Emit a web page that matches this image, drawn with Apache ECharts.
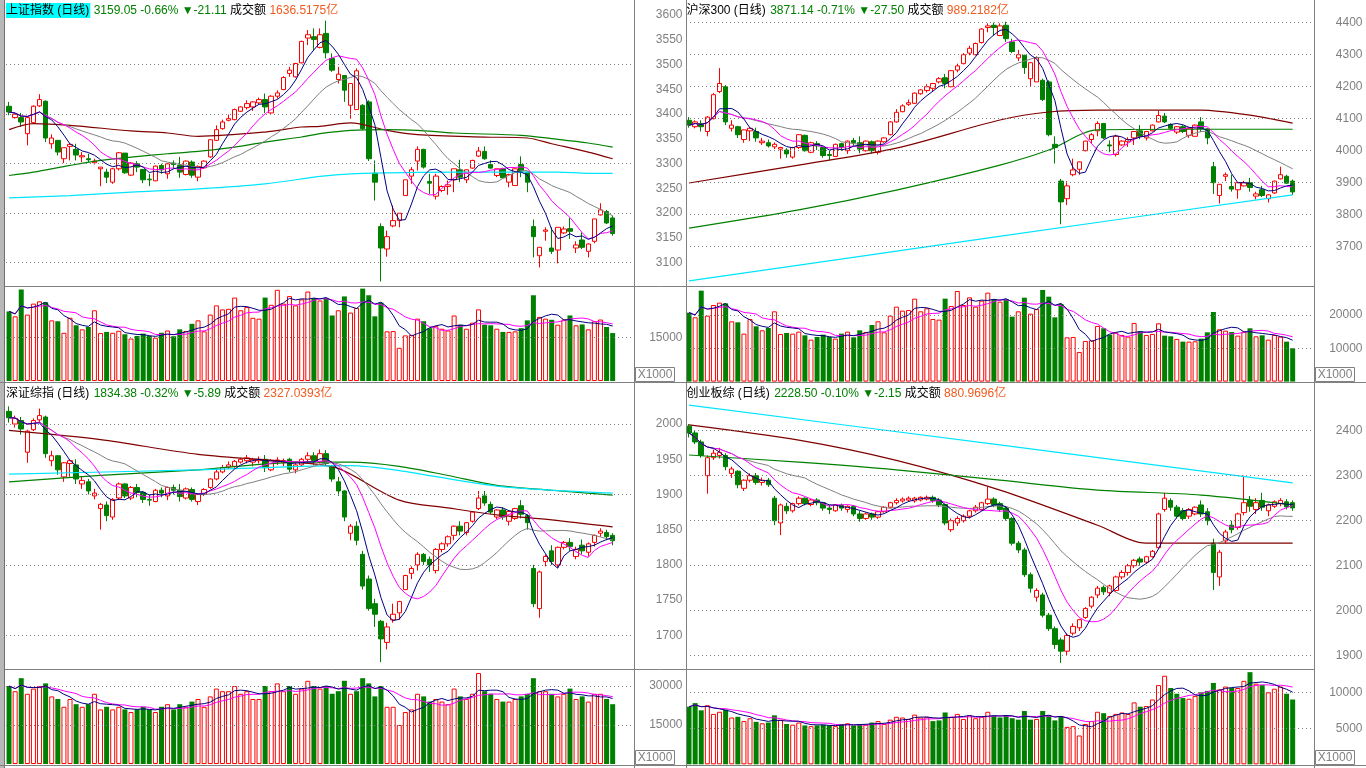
<!DOCTYPE html>
<html><head><meta charset="utf-8">
<script src="https://cdn.jsdelivr.net/npm/echarts@6/dist/echarts.min.js"></script>
<style>html,body{margin:0;padding:0;background:#fff;overflow:hidden}#c{width:1366px;height:768px}</style>
</head><body><div id="c"></div>
<script>
const dayIndex = Array.from({length: 103}, (_, i) => 'D' + (i + 1));

// ---------- 上证指数 ----------
const shTitle = ['上证指数 (日线)', '3159.05 -0.66%', '▼-21.11', '成交额', '1636.5175亿'];
const shOHLC = [ // [open, close, low, high]
[3415.8,3404.3,3397.6,3424.6],[3392.9,3399.6,3390.8,3402.3],[3392.9,3384.1,3374.0,3402.3],[3360.5,3392.9,3336.9,3394.2],
[3382.7,3415.8,3380.7,3417.8],[3416.5,3429.3,3414.5,3440.1],[3425.9,3351.7,3343.6,3428.0],[3340.2,3351.7,3330.1,3359.1],
[3347.0,3323.4,3316.6,3347.0],[3309.9,3332.1,3301.1,3332.1],[3334.8,3338.9,3306.5,3340.2],[3328.8,3317.3,3306.5,3340.2],
[3313.6,3316.0,3303.1,3323.4],[3309.9,3307.8,3303.1,3320.0],[3301.8,3305.2,3298.4,3309.9],[3289.6,3293.0,3254.5,3293.0],
[3282.9,3272.7,3260.6,3289.6],[3262.6,3289.6,3259.3,3291.0],[3289.6,3322.0,3286.2,3323.4],[3321.3,3281.5,3279.5,3321.3],
[3276.8,3301.1,3274.8,3303.1],[3299.7,3293.0,3282.9,3305.1],[3288.3,3267.4,3260.6,3288.3],[3268.7,3267.4,3254.5,3279.5],
[3265.3,3295.0,3264.6,3296.4],[3296.4,3287.6,3279.5,3299.7],[3279.5,3299.7,3269.4,3301.1],[3301.1,3298.4,3289.6,3306.5],
[3296.4,3282.9,3271.4,3313.6],[3278.1,3305.1,3276.1,3306.5],[3303.1,3276.8,3271.4,3306.5],[3272.7,3294.3,3264.6,3296.4],
[3291.6,3305.1,3289.6,3306.5],[3313.6,3348.3,3311.9,3348.3],[3347.0,3368.6,3345.6,3377.3],[3370.6,3384.1,3368.6,3388.8],
[3387.5,3390.8,3385.4,3398.9],[3388.8,3409.1,3387.5,3411.1],[3405.7,3414.5,3404.3,3415.8],[3413.1,3421.2,3409.1,3427.9],
[3414.5,3424.6,3406.4,3425.9],[3422.6,3429.3,3419.9,3433.4],[3429.3,3414.5,3402.3,3441.5],[3402.3,3436.1,3400.9,3438.1],
[3436.1,3442.8,3431.3,3448.0],[3449.5,3473.8,3448.2,3476.5],[3482.0,3488.7,3475.2,3495.4],[3475.2,3502.2,3473.8,3503.5],
[3503.5,3546.7,3502.2,3548.1],[3553.5,3560.2,3539.3,3569.7],[3556.2,3550.8,3529.2,3573.0],[3534.6,3560.2,3532.5,3573.0],
[3562.9,3523.8,3512.3,3588.6],[3512.3,3488.7,3485.3,3522.4],[3469.8,3480.6,3461.7,3495.4],[3477.9,3448.2,3424.6,3477.9],
[3417.8,3461.7,3390.8,3461.7],[3409.1,3487.4,3409.1,3492.1],[3417.8,3370.6,3368.0,3420.0],[3424.6,3309.9,3305.2,3428.0],
[3280.8,3262.6,3225.5,3306.5],[3172.9,3129.7,3062.2,3179.6],[3127.7,3152.6,3112.2,3164.8],[3174.3,3185.1,3171.5,3215.4],
[3185.1,3199.9,3171.5,3199.9],[3235.6,3267.4,3235.6,3267.4],[3274.8,3287.6,3259.3,3293.0],[3305.2,3328.8,3286.2,3334.8],
[3328.8,3293.0,3290.0,3330.0],[3264.0,3260.6,3239.0,3279.5],[3234.3,3274.8,3227.6,3279.5],[3245.8,3253.9,3242.4,3256.0],
[3253.9,3257.2,3237.0,3266.0],[3267.4,3289.6,3242.4,3289.6],[3287.6,3272.7,3262.6,3307.8],[3267.4,3287.6,3260.6,3287.6],
[3291.0,3306.5,3289.6,3307.8],[3315.3,3325.4,3313.3,3333.5],[3324.7,3309.9,3307.8,3334.8],[3298.4,3291.0,3289.6,3306.5],
[3276.1,3289.6,3272.7,3289.6],[3289.6,3271.4,3270.0,3292.0],[3262.6,3278.1,3252.5,3279.5],[3255.9,3289.6,3255.9,3290.0],
[3298.4,3284.9,3272.7,3314.6],[3282.9,3262.6,3242.4,3283.0],[3172.9,3152.6,3110.8,3187.1],[3114.2,3131.1,3090.6,3131.1],
[3163.5,3166.1,3144.5,3171.5],[3129.7,3123.0,3117.6,3171.5],[3125.6,3171.5,3098.7,3171.5],[3160.1,3168.1,3158.0,3172.9],
[3168.8,3163.5,3148.0,3190.4],[3129.7,3135.8,3119.6,3143.2],[3145.9,3131.1,3127.7,3161.4],[3123.0,3137.8,3110.8,3139.2],
[3143.2,3188.4,3139.2,3188.4],[3196.5,3206.6,3195.2,3220.1],[3203.3,3180.16,3178.3,3206.6],[3190.4,3159.05,3154.7,3195.0]
];
const shVol = [24100,22400,31700,23000,26800,27600,27300,21000,20700,16700,
21900,19300,17900,18700,24500,16600,17000,16700,17400,16200,
14700,15600,16400,15600,15000,16700,17500,15500,17900,17300,
19800,21000,17200,23000,26200,24800,25000,28900,24500,25600,
21900,21600,28900,26400,31600,26800,29400,26200,28300,31000,
28700,27900,28700,22700,24500,29300,23700,25300,32000,29700,
22400,27100,17200,17300,11500,15800,16000,21600,20700,18300,
19000,18100,17500,22700,19500,18100,20200,24800,19500,19300,
18100,17000,17000,17200,18300,21000,29700,22200,21600,21200,
19500,21300,22700,19300,19600,17900,20700,21300,18700,16600];
const shMA60 = [[0,3368.6],[4,3380.7],[10,3377.3],[20,3366],[26,3361.8],[31,3355.1],[42,3363.8],[48,3374.0],[51,3375.3],[56,3382.1],[62,3367.2],[67,3358.5],[78,3353.7],[85,3351.7],[89,3340.2],[95,3323.4],[99,3309.9]];
const shMA120 = [[0,3276.1],[4,3282.9],[10,3296.4],[15,3306.5],[20,3313.2],[26,3320.0],[31,3324.7],[37,3333.5],[42,3343.6],[48,3353.7],[51,3360.5],[56,3367.2],[62,3368.6],[67,3367.2],[73,3361.8],[84,3357.1],[89,3350.4],[95,3341.6],[99,3333.5]];
const shMA250 = [[0,3230.9],[10,3235.6],[20,3242.4],[31,3249.1],[42,3259.3],[51,3274.1],[56,3279.5],[62,3281.5],[73,3282.9],[84,3282.9],[90,3282.9],[95,3280.5],[99,3280.5]];
const shTicks = [3100,3150,3200,3250,3300,3350,3400,3450,3500,3550,3600];
const shLines = [3100,3200,3300,3400,3500];
const shVolTicks = [15000];

// ---------- 沪深300 ----------
const hsTitle = ['沪深300 (日线)', '3871.14 -0.71%', '▼-27.50', '成交额', '989.2182亿'];
const hsOHLC = [
[4095,4080,4072,4105],[4075,4090,4070,4095],[4085,4075,4060,4095],[4060,4105,4045,4108],[4100,4175,4098,4180],
[4185,4210,4180,4258],[4200,4090,4080,4205],[4070,4080,4060,4095],[4075,4050,4040,4078],[4035,4065,4025,4066],
[4062,4070,4030,4072],[4060,4040,4028,4072],[4025,4030,4018,4040],[4025,4015,4010,4035],[4012,4020,4005,4026],
[4005,4010,3975,4012],[4002,3990,3978,4008],[3980,4010,3975,4012],[4010,4050,4005,4052],[4048,4000,3997,4050],
[3995,4025,3992,4028],[4022,4015,4002,4030],[4010,3985,3978,4012],[3988,3985,3970,4000],[3982,4020,3980,4022],
[4022,4010,4000,4025],[4000,4030,3990,4032],[4032,4025,4015,4040],[4025,4005,3992,4045],[4000,4030,3997,4032],
[4028,4000,3992,4032],[3995,4030,3988,4032],[4028,4040,4025,4042],[4050,4090,4048,4092],[4090,4120,4088,4130],
[4122,4140,4120,4145],[4145,4150,4140,4160],[4148,4180,4146,4182],[4178,4190,4175,4192],[4188,4200,4182,4208],
[4195,4210,4185,4212],[4215,4225,4210,4230],[4228,4210,4195,4240],[4200,4250,4198,4252],[4252,4265,4245,4272],
[4272,4300,4270,4305],[4305,4320,4298,4328],[4300,4335,4298,4338],[4338,4380,4335,4383],[4385,4390,4370,4398],
[4392,4385,4360,4400],[4360,4390,4358,4398],[4392,4350,4340,4403],[4340,4310,4305,4350],[4290,4300,4280,4315],
[4298,4260,4240,4300],[4225,4275,4200,4276],[4215,4290,4215,4295],[4220,4160,4155,4225],[4215,4050,4045,4220],
[4020,4010,3960,4045],[3905,3840,3770,3912],[3850,3890,3830,3905],[3925,3940,3920,3975],[3942,3965,3925,3966],
[4000,4030,3998,4031],[4035,4050,4022,4055],[4062,4085,4045,4092],[4085,4040,4036,4087],[4018,4015,3995,4032],
[3988,4045,3982,4050],[4018,4030,4015,4033],[4028,4035,4012,4042],[4040,4060,4018,4060],[4062,4045,4036,4080],
[4040,4060,4032,4061],[4062,4080,4060,4082],[4090,4110,4088,4125],[4108,4090,4086,4118],[4082,4070,4066,4086],
[4058,4075,4052,4076],[4075,4060,4055,4080],[4048,4070,4040,4072],[4045,4080,4045,4082],[4090,4070,4058,4105],
[4068,4040,4020,4070],[3950,3900,3865,3965],[3860,3895,3835,3896],[3920,3925,3905,3932],[3888,3880,3872,3925],
[3878,3900,3850,3902],[3890,3900,3888,3906],[3900,3885,3872,3915],[3858,3865,3848,3872],[3878,3860,3855,3890],
[3850,3862,3838,3864],[3868,3905,3865,3906],[3912,3925,3910,3950],[3920,3898.64,3896,3925],[3905,3871.14,3862,3910]
];
const hsVol = [20700,19300,27300,19800,23000,23700,23500,18100,17800,14400,
18800,16600,15400,16100,21100,14300,14600,14400,15000,13900,
12600,13400,14100,13400,12900,14400,15000,13300,15400,14900,
17000,18100,14800,19800,22500,21300,21500,24900,21100,22000,
18800,18600,24900,22700,27200,23000,25300,22500,24300,26700,
24700,24000,24700,19500,21100,25200,20400,21800,27500,25500,
19300,23300,13300,13400,8900,12200,12400,16700,16000,14100,
14700,14000,13500,17600,15100,14000,14300,17500,13800,13600,
12800,12000,12000,12100,12900,14800,20900,15700,15300,14900,
13800,15000,16000,13600,13900,12600,14000,13500,12000,10000];
const hsMA60 = [[0,3899],[18,3955],[34,4008],[51,4096],[59,4121],[67,4127],[84,4127],[92,4111],[99,4086]];
const hsMA120 = [[0,3758],[18,3815],[34,3877],[51,3955],[59,4002],[67,4065],[80,4067],[99,4067]];
const hsMA250 = [[0,3593],[50,3730],[99,3862]];
const hsTicks = [3700,3800,3900,4000,4100,4200,4300,4400];
const hsLines = [3700,3800,3900,4000,4100,4200,4300,4400];
const hsVolTicks = [10000,20000];

// ---------- 深证综指 ----------
const szTitle = ['深证综指 (日线)', '1834.38 -0.32%', '▼-5.89', '成交额', '2327.0393亿'];
const szOHLC = [
[2018,2009,2002,2025],[2000,2008,1995,2012],[2005,1993,1985,2010],[1960,1990,1945,1992],[1992,2005,1990,2008],
[2006,2012,2002,2022],[2010,1958,1952,2012],[1948,1955,1940,1962],[1955,1935,1928,1956],[1925,1945,1918,1946],
[1944,1948,1925,1950],[1942,1922,1915,1950],[1915,1920,1908,1926],[1918,1905,1900,1922],[1898,1902,1893,1908],
[1880,1886,1850,1888],[1885,1870,1862,1890],[1868,1893,1864,1895],[1895,1915,1892,1917],[1915,1898,1895,1916],
[1895,1910,1892,1912],[1910,1903,1896,1915],[1903,1893,1888,1905],[1893,1892,1884,1900],[1890,1906,1889,1908],
[1906,1902,1896,1910],[1898,1910,1892,1911],[1910,1906,1900,1914],[1906,1897,1890,1915],[1895,1908,1893,1910],
[1907,1893,1890,1910],[1890,1900,1885,1902],[1900,1907,1898,1909],[1910,1922,1908,1923],[1922,1932,1920,1937],
[1932,1938,1930,1942],[1939,1942,1936,1947],[1940,1947,1938,1949],[1946,1950,1944,1952],[1948,1952,1944,1956],
[1946,1950,1940,1952],[1948,1950,1944,1954],[1950,1938,1932,1956],[1935,1948,1933,1950],[1946,1949,1942,1953],
[1945,1948,1940,1951],[1950,1936,1932,1952],[1935,1942,1930,1945],[1942,1950,1940,1952],[1950,1955,1945,1960],
[1955,1948,1942,1960],[1946,1958,1944,1964],[1958,1944,1940,1963],[1940,1922,1918,1942],[1918,1905,1898,1925],
[1905,1868,1862,1906],[1845,1855,1835,1858],[1855,1835,1828,1862],[1815,1770,1765,1820],[1780,1738,1735,1785],
[1745,1730,1712,1752],[1720,1695,1662,1722],[1690,1712,1680,1718],[1722,1730,1718,1745],[1732,1748,1722,1749],
[1765,1785,1765,1786],[1788,1795,1780,1798],[1800,1815,1792,1818],[1815,1805,1800,1817],[1808,1800,1790,1812],
[1792,1822,1788,1824],[1822,1830,1818,1832],[1830,1840,1826,1842],[1842,1855,1835,1856],[1855,1848,1842,1862],
[1846,1860,1842,1861],[1862,1875,1860,1876],[1880,1895,1878,1905],[1898,1888,1884,1905],[1886,1875,1872,1890],
[1868,1878,1865,1879],[1878,1868,1864,1882],[1862,1876,1856,1877],[1866,1880,1864,1881],[1884,1872,1866,1892],
[1870,1860,1850,1872],[1795,1745,1740,1800],[1738,1790,1725,1792],[1805,1812,1798,1815],[1820,1805,1800,1828],
[1800,1825,1796,1826],[1825,1832,1822,1834],[1832,1826,1820,1838],[1812,1822,1808,1826],[1828,1820,1815,1836],
[1818,1830,1812,1832],[1832,1842,1826,1843],[1845,1848,1840,1852],[1846,1840.27,1835,1850],[1842,1834.38,1828,1845]
];
const szVol = [30000,28000,33000,27000,29000,30000,31000,26000,25000,22000,
25000,23000,22000,23000,27000,21000,22000,21000,22000,21000,
20000,21000,22000,21000,20000,22000,23000,21000,23000,22000,
24000,25000,22000,26000,29000,28000,28000,30000,27000,28000,
25000,25000,30000,28000,31000,28000,30000,27000,29000,32000,
30000,29000,30000,27000,28000,32000,27000,28000,33000,31000,
26000,30000,22000,22000,15000,20000,21000,27000,26000,24000,
25000,24000,23000,29000,26000,25000,27000,35000,28000,27000,
25000,24000,24000,25000,26000,27000,33000,28000,28000,27000,
26000,27000,29000,25000,26000,24000,27000,27000,25000,23000];
const szMA60 = [[0,1991],[15,1978],[31,1957],[48,1945],[54,1937],[64,1892],[72,1881],[80,1871],[89,1864],[99,1854]];
const szMA120 = [[0,1918],[15,1927],[31,1935],[48,1946],[56,1946],[64,1940],[72,1927],[80,1913],[89,1906],[99,1899]];
const szMA250 = [[0,1929],[31,1935],[48,1940],[56,1941],[64,1934],[80,1912],[99,1902]];
const szTicks = [1700,1750,1800,1850,1900,1950,2000];
const szLines = [1700,1800,1900,2000];
const szVolTicks = [15000,30000];

// ---------- 创业板综 ----------
const cyTitle = ['创业板综 (日线)', '2228.50 -0.10%', '▼-2.15', '成交额', '880.9696亿'];
const cyOHLC = [
[2410,2395,2385,2415],[2395,2375,2370,2400],[2375,2345,2340,2380],[2300,2340,2260,2345],[2340,2350,2335,2358],
[2345,2352,2338,2362],[2345,2320,2312,2350],[2305,2315,2295,2320],[2310,2280,2272,2312],[2272,2290,2266,2292],
[2290,2300,2285,2305],[2300,2285,2280,2306],[2285,2290,2278,2296],[2290,2280,2275,2295],[2250,2200,2190,2255],
[2195,2235,2168,2238],[2232,2222,2215,2240],[2222,2238,2218,2240],[2238,2250,2234,2254],[2250,2238,2234,2252],
[2236,2246,2232,2248],[2246,2240,2234,2250],[2240,2228,2222,2242],[2228,2225,2215,2235],[2222,2235,2220,2236],
[2235,2228,2222,2238],[2225,2232,2218,2234],[2232,2215,2210,2235],[2215,2205,2198,2222],[2205,2215,2202,2218],
[2215,2208,2202,2218],[2208,2220,2204,2222],[2220,2230,2218,2232],[2230,2240,2228,2242],[2240,2245,2236,2250],
[2244,2248,2240,2252],[2246,2250,2242,2254],[2244,2250,2240,2253],[2246,2252,2243,2254],[2248,2252,2245,2256],
[2252,2245,2240,2256],[2246,2235,2230,2250],[2236,2195,2190,2238],[2180,2200,2175,2205],[2195,2205,2188,2210],
[2200,2210,2196,2214],[2210,2222,2205,2224],[2222,2230,2218,2235],[2225,2240,2222,2242],[2238,2248,2235,2275],
[2248,2235,2230,2252],[2238,2225,2220,2242],[2228,2205,2200,2232],[2205,2150,2145,2208],[2150,2135,2128,2155],
[2135,2080,2075,2140],[2080,2050,2040,2085],[2030,2045,2020,2050],[2035,1990,1985,2040],[1990,1960,1955,1995],
[1960,1925,1915,1965],[1935,1910,1884,1940],[1910,1945,1900,1950],[1950,1965,1945,1972],[1962,1980,1955,1982],
[1985,2005,1982,2008],[2010,2030,2005,2032],[2035,2050,2028,2055],[2052,2042,2035,2056],[2040,2055,2032,2058],
[2045,2075,2042,2078],[2075,2085,2070,2090],[2085,2100,2078,2104],[2100,2112,2095,2115],[2115,2108,2100,2120],
[2108,2120,2104,2122],[2120,2132,2118,2135],[2140,2215,2138,2218],[2225,2250,2220,2262],[2245,2230,2222,2250],
[2230,2210,2205,2235],[2222,2205,2200,2228],[2210,2225,2204,2228],[2215,2230,2212,2232],[2235,2215,2208,2245],
[2220,2200,2190,2228],[2150,2085,2046,2160],[2075,2130,2055,2135],[2155,2175,2150,2180],[2190,2180,2172,2200],
[2185,2215,2180,2218],[2218,2240,2212,2300],[2245,2232,2220,2255],[2225,2240,2215,2250],[2245,2230,2222,2262],
[2222,2235,2210,2238],[2232,2242,2228,2245],[2238,2245,2232,2250],[2242,2230.65,2225,2248],[2240,2228.5,2222,2245]
];
const cyVol = [8000,8500,7500,8200,7000,7300,7600,6500,6600,6000,
6400,5900,5700,5800,6800,6200,5600,5500,5800,5400,
5300,5400,5500,5400,5300,5600,5700,5400,5600,5500,
5800,6000,5600,6200,6600,6500,6300,6900,6500,6600,
6000,6100,7200,6600,7000,6300,6800,6400,6600,7300,
6700,6500,6800,6400,6200,7400,6200,6300,7400,6800,
6100,6700,5200,5300,4000,5600,6000,7300,7100,6700,
7000,7200,7000,8600,8000,8100,9000,11000,12300,10600,
9800,9200,9100,9500,10000,10200,11300,10400,10800,10600,
10600,11600,12800,11200,11000,10000,10500,10800,9800,9000];
const cyMA60 = [[0,2413],[18,2379],[34,2334],[51,2268],[67,2190],[75,2150],[99,2150]];
const cyMA120 = [[0,2346],[18,2330],[34,2313],[51,2290],[67,2268],[84,2257],[99,2235]];
const cyMA250 = [[0,2457],[50,2370],[99,2284]];
const cyTicks = [1900,2000,2100,2200,2300,2400];
const cyLines = [1900,2000,2100,2200,2300,2400];
const cyVolTicks = [5000,10000];

// moving averages of the read data (as the original software draws them)
function movingAvg(vals, n) {
  return vals.map((_, i) => {
    const s = Math.max(0, i - n + 1); let sum = 0;
    for (let k = s; k <= i; k++) sum += vals[k];
    return +(sum / (i - s + 1)).toFixed(2);
  });
}

const UP = '#ff0000', DOWN = '#008000';
const FONT = '"Liberation Sans", "Noto Sans CJK SC", sans-serif';
const panels = [
  {x: 6, top: 0, h: 287.5, min: 3050, max: 3630.28, step: 50, ticks: shTicks, lines: shLines,
   vTop: 287, vH: 94, vMax: 32560, vStep: 15000, vTicks: shVolTicks,
   ohlc: shOHLC, vol: shVol, long: [shMA60, shMA120, shMA250], title: shTitle, tx: 6, ty: 3, hl: true},
  {x: 686, top: 0, h: 310.7, min: 3500, max: 4470.94, step: 100, ticks: hsTicks, lines: hsLines,
   vTop: 287, vH: 94.6, vMax: 28400, vStep: 10000, vTicks: hsVolTicks,
   ohlc: hsOHLC, vol: hsVol, long: [hsMA60, hsMA120, hsMA250], title: hsTitle, tx: 686.5, ty: 3, hl: false},
  {x: 6, top: 353.6, h: 317.0, min: 1650, max: 2100, step: 50, ticks: szTicks, lines: szLines,
   vTop: 670, vH: 94, vMax: 36150, vStep: 15000, vTicks: szVolTicks,
   ohlc: szOHLC, vol: szVol, long: [szMA60, szMA120, szMA250], title: szTitle, tx: 6, ty: 386, hl: false},
  {x: 686, top: 385.7, h: 315, min: 1800, max: 2500, step: 100, ticks: cyTicks, lines: cyLines,
   vTop: 670, vH: 94.3, vMax: 13100, vStep: 5000, vTicks: cyVolTicks,
   ohlc: cyOHLC, vol: cyVol, long: [cyMA60, cyMA120, cyMA250], title: cyTitle, tx: 686.5, ty: 386, hl: false}
];
const longColors = ['#800000', '#008000', '#00e5ff'];

const grids = [], xAxes = [], yAxes = [], series = [], titles = [];
function dotted(vals) {
  return {silent: true, symbol: 'none', animation: false, label: {show: false},
    lineStyle: {color: '#808080', width: 1, type: [1, 3]},
    emphasis: {disabled: true}, data: vals.map(v => ({yAxis: v}))};
}
function yAx(g, min, max, step, ticks) {
  return {type: 'value', gridIndex: g, position: 'right', min: min, max: max, interval: step,
    axisLine: {show: false}, axisTick: {show: false}, splitLine: {show: false},
    axisLabel: {show: true, showMinLabel: true, showMaxLabel: true, align: 'right', margin: 48.5, color: '#808080', fontSize: 12, fontFamily: FONT,
      formatter: v => ticks.indexOf(Math.round(v)) >= 0 && Math.abs(v - Math.round(v)) < 0.01 ? String(Math.round(v)) : ''}};
}
panels.forEach((p, k) => {
  const gC = 2 * k, gV = 2 * k + 1;
  grids.push({left: p.x, width: 628, top: p.top, height: p.h});
  grids.push({left: p.x, width: 628, top: p.vTop, height: p.vH});
  [gC, gV].forEach(g => xAxes.push({type: 'category', gridIndex: g, data: dayIndex, boundaryGap: true, show: false}));
  yAxes.push(yAx(gC, p.min, p.max, p.step, p.ticks));
  yAxes.push(yAx(gV, 0, p.vMax, p.vStep, p.vTicks));
  const closes = p.ohlc.map(d => d[1]);
  series.push({type: 'candlestick', xAxisIndex: gC, yAxisIndex: gC, data: p.ohlc, barWidth: 5, z: 3,
    itemStyle: {color: '#ffffff', color0: DOWN, borderColor: UP, borderColor0: DOWN, borderColorDoji: UP, borderWidth: 1},
    markLine: dotted(p.lines)});
  p.long.forEach((arr, j) => series.push({type: 'line', xAxisIndex: gC, yAxisIndex: gC, data: arr, smooth: 0.3,
    symbol: 'none', z: 4, silent: true, lineStyle: {width: 1.2, color: longColors[j]}}));
  [[20, '#808080'], [10, '#ff00ff'], [5, '#000080']].forEach(([n, c]) => series.push({type: 'line', xAxisIndex: gC, yAxisIndex: gC,
    data: movingAvg(closes, n), symbol: 'none', z: 5, silent: true, lineStyle: {width: 1, color: c}}));
  series.push({type: 'bar', xAxisIndex: gV, yAxisIndex: gV, barWidth: 5, z: 3,
    data: p.vol.map((v, i) => {
      const up = p.ohlc[i] && p.ohlc[i][1] >= p.ohlc[i][0];
      return {value: v, itemStyle: up ? {color: '#ffffff', borderColor: UP, borderWidth: 1} : {color: DOWN}};
    }), markLine: dotted(p.vTicks)});
  [[10, '#ff00ff'], [5, '#000080']].forEach(([n, c]) => series.push({type: 'line', xAxisIndex: gV, yAxisIndex: gV,
    data: movingAvg(p.vol, n), symbol: 'none', z: 5, silent: true, lineStyle: {width: 1, color: c}}));
  const t = p.title;
  titles.push({left: p.tx, top: p.ty, padding: 0, itemGap: 0,
    text: `{n|${t[0]}} {g|${t[1]}} {g|${t[2]}} {k|${t[3]}} {o|${t[4]}}`,
    textStyle: {fontSize: 12, fontFamily: FONT, fontWeight: 'normal', rich: {
      n: {color: '#000', fontSize: 12, fontFamily: FONT, backgroundColor: p.hl ? '#00ffff' : 'transparent', padding: [2, 1, 1, 0]},
      g: {color: '#008000', fontSize: 12, fontFamily: FONT},
      k: {color: '#000', fontSize: 12, fontFamily: FONT},
      o: {color: '#f05a1e', fontSize: 12, fontFamily: FONT}}}});
});

const G = '#808080';
function ln(x1, y1, x2, y2, c) { return {type: 'line', silent: true, z: 100, shape: {x1, y1, x2, y2}, style: {stroke: c || G, lineWidth: 1}}; }
function xbox(x, y) {
  return [{type: 'rect', silent: true, z: 100, shape: {x: x, y: y, width: 39, height: 14}, style: {fill: '#fff', stroke: G, lineWidth: 1}},
          {type: 'text', silent: true, z: 101, x: x + 19.5, y: y + 7.5, style: {text: 'X1000', fill: G, font: '12px ' + FONT, align: 'center', verticalAlign: 'middle'}}];
}
const graphic = [
  {type: 'rect', silent: true, z: 100, shape: {x: 0, y: 0, width: 4, height: 768}, style: {fill: '#b8b8b8'}},
  ln(4.5, 0, 4.5, 768, '#707070'),
  ln(634.5, 0, 634.5, 768), ln(686.5, 0, 686.5, 768), ln(1314.5, 0, 1314.5, 768),
  ln(5, 286.5, 1314, 286.5), ln(0, 382.5, 1366, 382.5), ln(5, 669.5, 1314, 669.5), ln(0, 765.5, 1366, 765.5),
  ...xbox(635.5, 367.5), ...xbox(1315.5, 367.5), ...xbox(635.5, 750.5), ...xbox(1315.5, 750.5)
];

const chart = echarts.init(document.getElementById('c'), null, {width: 1366, height: 768});
chart.setOption({animation: false, backgroundColor: '#ffffff', title: titles, grid: grids, xAxis: xAxes, yAxis: yAxes, series: series, graphic: graphic});
</script></body></html>
